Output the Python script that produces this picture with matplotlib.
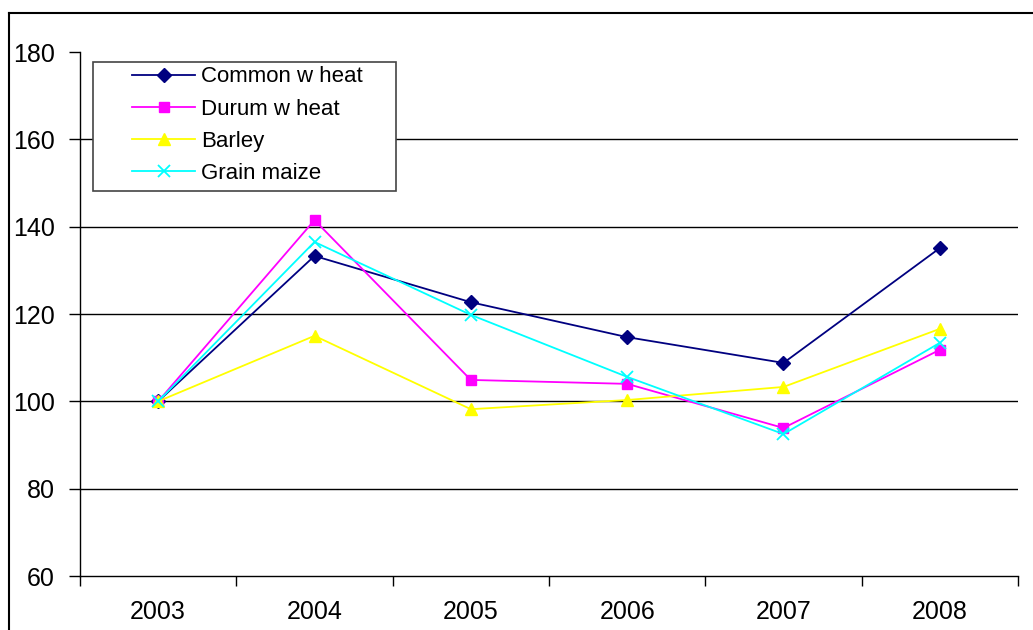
import matplotlib.pyplot as plt
from matplotlib.lines import Line2D
from matplotlib.patches import Rectangle

plt.rcParams['font.family'] = ['Liberation Sans', 'DejaVu Sans']

years = ["2003", "2004", "2005", "2006", "2007", "2008"]
common_wheat = [100, 133.3, 122.7, 114.7, 108.8, 135.1]
durum_wheat = [100, 141.5, 104.9, 104.0, 93.9, 111.8]
barley = [100, 115.0, 98.2, 100.3, 103.3, 116.6]
grain_maize = [100, 136.5, 119.8, 105.6, 92.5, 113.4]

W, H = 1033, 630
fig = plt.figure(figsize=(W / 100, H / 100), dpi=100)
ax = fig.add_axes([80 / W, 1 - 576 / H, 938 / W, 524 / H])

x = range(len(years))
ax.plot(x, common_wheat, color='#000080', marker='D', markersize=7, lw=1.3, label='Common w heat')
ax.plot(x, durum_wheat, color='#FF00FF', marker='s', markersize=7, lw=1.3, label='Durum w heat')
ax.plot(x, barley, color='#FFFF00', marker='^', markersize=9, lw=1.3, label='Barley')
ax.plot(x, grain_maize, color='#00FFFF', marker='x', markersize=9, mew=1.3, lw=1.3, label='Grain maize')

ax.set_xlim(-0.5, len(years) - 0.5)
ax.set_ylim(60, 180)
ax.set_yticks(range(60, 181, 20))
ax.set_xticks(list(x))
ax.set_xticklabels(years)
ax.set_xticks([i - 0.5 for i in range(len(years) + 1)], minor=True)
ax.tick_params(axis='x', which='major', length=0, labelsize=18, pad=17)
ax.tick_params(axis='x', which='minor', length=7, direction='out', width=1)
ax.tick_params(axis='y', length=8, direction='out', width=1, labelsize=18, pad=10)

for v in range(80, 180, 20):
    ax.axhline(v, color='black', lw=1, zorder=0)

for s in ['top', 'right']:
    ax.spines[s].set_visible(False)
for s in ['left', 'bottom']:
    ax.spines[s].set_linewidth(1)

# legend box drawn separately to get the wide side margins
ax.add_patch(Rectangle((93 / W, 1 - 191 / H), 303 / W, 129 / H, transform=fig.transFigure,
                       facecolor='white', edgecolor='#444444', lw=1.2, zorder=4, clip_on=False))
leg = ax.legend(loc='upper left', bbox_to_anchor=(128 / W, 1 - 62 / H),
                bbox_transform=fig.transFigure, fontsize=16, frameon=False,
                handlelength=2.8, borderpad=0.2, labelspacing=0.5, handletextpad=0.3,
                borderaxespad=0)
leg.set_zorder(5)

# outer chart frame
fig.add_artist(Line2D([9 / W, 1.0], [1 - 13 / H, 1 - 13 / H], color='black', lw=1.5,
                      transform=fig.transFigure))
fig.add_artist(Line2D([9 / W, 9 / W], [0, 1 - 13 / H], color='black', lw=1.5,
                      transform=fig.transFigure))

fig.savefig('out.png', dpi=100)
